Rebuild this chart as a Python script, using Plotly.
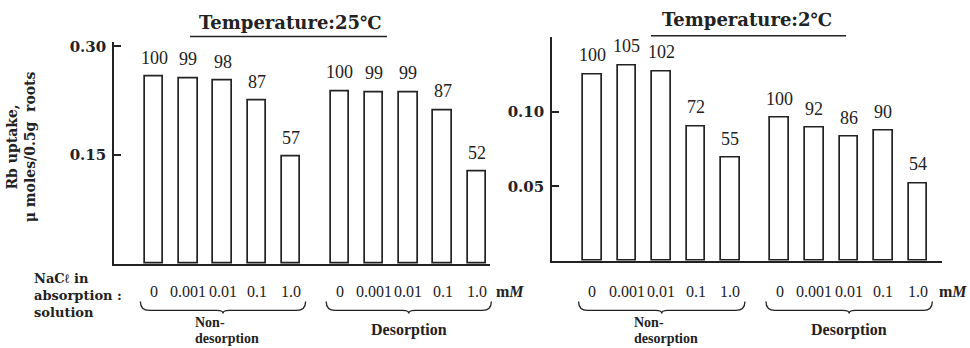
import plotly.graph_objects as go

# ---------------- data ----------------
concentrations = ["0", "0.001", "0.01", "0.1", "1.0"]
groups = ["Non-", "desorption", "Desorption"]

# Temperature 25 C  (Rb uptake, umoles/0.5 g roots)
uptake_25_nondes = [0.258, 0.256, 0.253, 0.225, 0.148]
uptake_25_des = [0.238, 0.237, 0.237, 0.212, 0.127]
pct_25_nondes = [100, 99, 98, 87, 57]
pct_25_des = [100, 99, 99, 87, 52]

# Temperature 2 C
uptake_2_nondes = [0.125, 0.131, 0.127, 0.090, 0.069]
uptake_2_des = [0.096, 0.089, 0.083, 0.087, 0.052]
pct_2_nondes = [100, 105, 102, 72, 55]
pct_2_des = [100, 92, 86, 90, 54]

y_ticks_25 = [0.15, 0.30]
y_ticks_2 = [0.05, 0.10]

W, H = 970, 348
INK = "#222222"
SERIF = "Liberation Serif"
WIDE = "DejaVu Serif"


def py(p):  # pixel row -> paper fraction
    return (H - p) / H


def pxf(p):  # pixel column -> paper fraction
    return p / W


panels = [
    dict(xd=(114, 490), yd=(263, 38), xr=(-1.17, 9.80), gap=5.42, yr_top=0.3068,
         vals=(uptake_25_nondes, uptake_25_des), pct=(pct_25_nondes, pct_25_des),
         ticks=y_ticks_25, title="Temperature:25℃", title_x=290, title_y=19,
         ul=(190, 387, 33), mm_x=510),
    dict(xd=(552, 942), yd=(260, 33), xr=(-1.17, 10.13), gap=5.43, yr_top=0.1501,
         vals=(uptake_2_nondes, uptake_2_des), pct=(pct_2_nondes, pct_2_des),
         ticks=y_ticks_2, title="Temperature:2℃", title_x=747, title_y=16,
         ul=(651, 846, 32), mm_x=953),
]

fig = go.Figure()
annotations = []
shapes = []
layout_axes = {}

for k, p in enumerate(panels):
    sfx = "" if k == 0 else str(k + 1)
    xa, ya = "x" + sfx, "y" + sfx
    positions = [i for i in range(5)] + [p["gap"] + i for i in range(5)]
    values = list(p["vals"][0]) + list(p["vals"][1])
    pcts = list(p["pct"][0]) + list(p["pct"][1])

    fig.add_trace(go.Bar(
        x=positions, y=values, width=0.54, xaxis=xa, yaxis=ya,
        marker=dict(color="white", line=dict(color=INK, width=1.7)),
        showlegend=False, hoverinfo="skip"))

    x0p, x1p = p["xd"]
    xr0, xr1 = p["xr"]

    def d2px(v, x0p=x0p, x1p=x1p, xr0=xr0, xr1=xr1):
        return x0p + (v - xr0) / (xr1 - xr0) * (x1p - x0p)

    layout_axes["xaxis" + sfx] = dict(
        domain=[pxf(x0p), pxf(x1p)], range=list(p["xr"]), anchor=ya,
        showline=True, linecolor=INK, linewidth=1.6, showgrid=False,
        zeroline=False, showticklabels=False, ticks="", fixedrange=True)
    layout_axes["yaxis" + sfx] = dict(
        domain=[py(p["yd"][0]), py(p["yd"][1])], range=[0, p["yr_top"]], anchor=xa,
        showline=True, linecolor=INK, linewidth=1.6, showgrid=False, zeroline=False,
        tickvals=p["ticks"], ticktext=["%.2f" % t for t in p["ticks"]],
        ticks="inside", ticklen=7, tickwidth=1.5, tickcolor=INK,
        ticklabelstandoff=3,
        tickfont=dict(family=WIDE, size=15, color=INK, weight="bold"),
        fixedrange=True)

    # value labels above bars
    for xv, yv, t in zip(positions, values, pcts):
        annotations.append(dict(x=xv, y=yv, xref=xa, yref=ya, text=str(t),
                                showarrow=False, yanchor="bottom", yshift=7,
                                font=dict(family=SERIF, size=18, color=INK)))
    # concentration labels
    for xv, c in zip(positions, concentrations * 2):
        annotations.append(dict(x=xv, y=py(291), xref=xa, yref="paper", text=c,
                                showarrow=False, yanchor="middle",
                                font=dict(family=SERIF, size=16, color=INK)))
    annotations.append(dict(x=pxf(p["mm_x"]), y=py(291), xref="paper", yref="paper",
                            text="m<i>M</i>", showarrow=False, xanchor="center",
                            yanchor="middle",
                            font=dict(family=SERIF, size=16, color=INK, weight="bold")))

    # braces and group names
    for g in range(2):
        gp = positions[g * 5:(g + 1) * 5]
        bx0, bx1 = d2px(gp[0] - 0.4), d2px(gp[-1] + 0.42)
        bm = (bx0 + bx1) / 2
        yt, yl, yd = 301, 310, 313
        path = (f"M {pxf(bx0)},{py(yt)} Q {pxf(bx0)},{py(yl)} {pxf(bx0 + 9)},{py(yl)} "
                f"L {pxf(bm - 6)},{py(yl)} Q {pxf(bm)},{py(yl)} {pxf(bm)},{py(yd)} "
                f"Q {pxf(bm)},{py(yl)} {pxf(bm + 6)},{py(yl)} "
                f"L {pxf(bx1 - 9)},{py(yl)} Q {pxf(bx1)},{py(yl)} {pxf(bx1)},{py(yt)}")
        shapes.append(dict(type="path", path=path, xref="paper", yref="paper",
                           line=dict(color=INK, width=1.3)))
        if g == 0:
            annotations.append(dict(x=pxf(bm - 30), y=py(322), xref="paper", yref="paper",
                                    text=groups[0], showarrow=False,
                                    xanchor="left", yanchor="middle",
                                    font=dict(family=SERIF, size=14, color=INK,
                                              weight="bold")))
            annotations.append(dict(x=pxf(bm - 30), y=py(348), xref="paper", yref="paper",
                                    text=groups[1], showarrow=False,
                                    xanchor="left", yanchor="bottom",
                                    font=dict(family=SERIF, size=14, color=INK,
                                              weight="bold")))
        else:
            annotations.append(dict(x=pxf(bm), y=py(330), xref="paper", yref="paper",
                                    text=groups[2], showarrow=False,
                                    xanchor="center", yanchor="middle",
                                    font=dict(family=SERIF, size=16, color=INK,
                                              weight="bold")))

    # panel titles with underline
    annotations.append(dict(x=pxf(p["title_x"]), y=py(p["title_y"]), xref="paper",
                            yref="paper", text=p["title"], showarrow=False,
                            xanchor="center", yanchor="middle",
                            font=dict(family=WIDE, size=18, color=INK, weight="bold")))
    u0, u1, uy = p["ul"]
    shapes.append(dict(type="line", xref="paper", yref="paper",
                       x0=pxf(u0), x1=pxf(u1), y0=py(uy), y1=py(uy),
                       line=dict(color=INK, width=1.5)))

# y-axis title
annotations.append(dict(x=pxf(21), y=py(145), xref="paper", yref="paper",
                        text="Rb uptake,<br>μ moles/0.5g  roots", textangle=-90,
                        showarrow=False, xanchor="center", yanchor="middle",
                        font=dict(family=WIDE, size=14, color=INK, weight="bold")))
# x-axis row title
annotations.append(dict(x=pxf(32), y=py(295), xref="paper", yref="paper",
                        text="NaCℓ in<br>absorption :<br>solution", align="left",
                        showarrow=False, xanchor="left", yanchor="middle",
                        font=dict(family=WIDE, size=13, color=INK, weight="bold")))

fig.update_layout(
    width=W, height=H, margin=dict(l=0, r=0, t=0, b=0),
    paper_bgcolor="white", plot_bgcolor="white",
    annotations=annotations, shapes=shapes, bargap=0,
    **layout_axes)

fig.write_html("out.html", config={"displayModeBar": False})
